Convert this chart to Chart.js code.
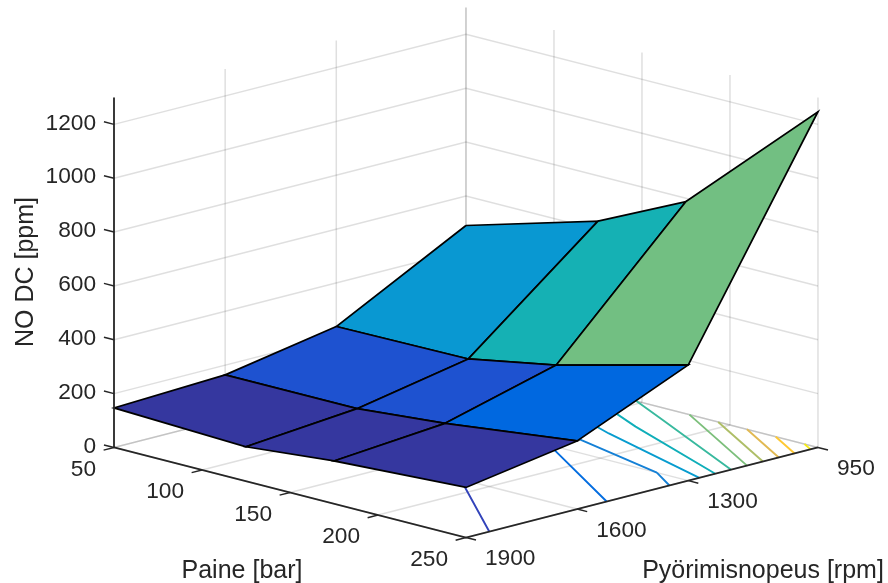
<!DOCTYPE html>
<html lang="en">

<head>
    <meta charset="UTF-8">
    <title>NO DC</title>
    <script src="https://cdn.jsdelivr.net/npm/chart.js"></script>
    <style>
        body { margin: 0; background: #ffffff; }
        canvas { display: block; }
    </style>
</head>

<body>
    <canvas id="surfaceChart" width="888" height="583"></canvas>

    <script>
        // Data
        var pressures = [50, 125, 175, 250];
        var speeds = [950, 1300, 1600, 1900];
        var noAt950 = [490, 632, 788, 1247];
        var noAt1300 = [238, 243, 304, 430];
        var noAt1600 = [164, 164, 193, 253];
        var noAt1900 = [147, 128, 159, 186];
        var noRows = [noAt950, noAt1300, noAt1600, noAt1900];

        var pressureTicks = [50, 100, 150, 200, 250];
        var speedTicks = [950, 1300, 1600, 1900];
        var noTicks = [0, 200, 400, 600, 800, 1000, 1200];
        var contourLevels = [200, 300, 400, 500, 600, 700, 800, 900, 1000, 1100, 1200];

        // Face colours per speed band / pressure band
        var faceColors = [
            ['#0998d2', '#15b1b4', '#72bf82'],
            ['#1e52d0', '#1e52d0', '#0068e0'],
            ['#35379f', '#35379f', '#35379f']
        ];
        var contourColors = ['#3243ba', '#046de0', '#1480d6', '#079ccf', '#0faeb9', '#38b99e',
            '#7cbf7b', '#aebe67', '#e1b952', '#fec832', '#f5eb18'];

        var axisColor = '#262626';
        var gridColor = 'rgba(38, 38, 38, 0.15)';
        var pMin = 50, pMax = 250, rMin = 950, rMax = 1900, zMax = 1300;

        // Oblique view of the box: x in view units, y in ppm on the axis
        function project(p, r, z) {
            return {
                x: 114 + 1.76 * (p - pMin) + 0.3705 * (rMax - r),
                y: z - 1.672 * (p - pMin) + 0.352 * (rMax - r)
            };
        }

        var gap = { x: NaN, y: NaN };
        var datasets = [];

        function addLine(points, color, width) {
            datasets.push({
                data: points,
                showLine: true,
                fill: false,
                borderColor: color,
                borderWidth: width,
                pointRadius: 0,
                tension: 0,
                clip: false
            });
        }

        // Grid on the two back walls and the floor
        noTicks.forEach(function (z) {
            addLine([project(pMin, rMax, z), project(pMin, rMin, z), project(pMax, rMin, z)], gridColor, 1.5);
        });
        speedTicks.forEach(function (r) {
            addLine([project(pMin, r, 0), project(pMin, r, zMax)], gridColor, 1.5);
            addLine([project(pMin, r, 0), project(pMax, r, 0)], gridColor, 1.5);
        });
        pressureTicks.forEach(function (p) {
            addLine([project(p, rMin, 0), project(p, rMin, zMax)], gridColor, 1.5);
            addLine([project(p, rMin, 0), project(p, rMax, 0)], gridColor, 1.5);
        });

        // Contours on the floor, from the surface values
        function crossing(level, p1, r1, v1, p2, r2, v2) {
            if ((v1 < level) === (v2 < level)) return null;
            var t = (level - v1) / (v2 - v1);
            return project(p1 + t * (p2 - p1), r1 + t * (r2 - r1), 0);
        }

        contourLevels.forEach(function (level, n) {
            var pts = [];
            for (var i = 0; i < speeds.length - 1; i++) {
                for (var j = 0; j < pressures.length - 1; j++) {
                    var p0 = pressures[j], p1 = pressures[j + 1], r0 = speeds[i], r1 = speeds[i + 1];
                    var hits = [
                        crossing(level, p0, r0, noRows[i][j], p1, r0, noRows[i][j + 1]),
                        crossing(level, p1, r0, noRows[i][j + 1], p1, r1, noRows[i + 1][j + 1]),
                        crossing(level, p1, r1, noRows[i + 1][j + 1], p0, r1, noRows[i + 1][j]),
                        crossing(level, p0, r1, noRows[i + 1][j], p0, r0, noRows[i][j])
                    ].filter(Boolean);
                    if (hits.length >= 2) pts.push(hits[0], hits[1], gap);
                }
            }
            addLine(pts, contourColors[n], 1.9);
        });

        // Surface faces, back to front
        for (var i = 0; i < speeds.length - 1; i++) {
            for (var j = 0; j < pressures.length - 1; j++) {
                datasets.push({
                    data: [
                        project(pressures[j], speeds[i], noRows[i][j]),
                        project(pressures[j + 1], speeds[i], noRows[i][j + 1]),
                        project(pressures[j + 1], speeds[i + 1], noRows[i + 1][j + 1]),
                        project(pressures[j], speeds[i + 1], noRows[i + 1][j]),
                        project(pressures[j], speeds[i], noRows[i][j])
                    ],
                    showLine: true,
                    fill: 'shape',
                    backgroundColor: faceColors[i][j],
                    borderColor: '#000000',
                    borderWidth: 1.7,
                    pointRadius: 0,
                    tension: 0,
                    clip: false
                });
            }
        }

        // Axis lines and tick marks
        addLine([project(pMin, rMax, 0), project(pMin, rMax, zMax)], axisColor, 1.8);
        addLine([project(pMin, rMax, 0), project(pMax, rMax, 0), project(pMax, rMin, 0)], axisColor, 1.8);
        noTicks.forEach(function (z) {
            addLine([project(pMin - 5.7, rMax, z), project(pMin, rMax, z)], axisColor, 1.5);
        });
        pressureTicks.forEach(function (p) {
            addLine([project(p, rMax + 28, 0), project(p, rMax, 0)], axisColor, 1.5);
        });
        speedTicks.forEach(function (r) {
            addLine([project(pMax, r, 0), project(pMax + 5.7, r, 0)], axisColor, 1.5);
        });

        // later datasets go on top
        datasets.forEach(function (d, n) { d.order = datasets.length - n; });

        // Tick labels and titles of the floor axes
        var floorLabels = {
            id: 'floorLabels',
            afterDraw: function (chart) {
                var ctx = chart.ctx, xs = chart.scales.x, ys = chart.scales.y;
                function at(p, r) {
                    var v = project(p, r, 0);
                    return { x: xs.getPixelForValue(v.x), y: ys.getPixelForValue(v.y) };
                }
                ctx.save();
                ctx.fillStyle = axisColor;
                ctx.textBaseline = 'middle';
                ctx.font = '22.7px "Liberation Sans"';
                ctx.textAlign = 'right';
                pressureTicks.forEach(function (p) {
                    var a = at(p, rMax);
                    ctx.fillText(String(p), a.x - 18, a.y + 22);
                });
                ctx.textAlign = 'left';
                speedTicks.forEach(function (r) {
                    var a = at(pMax, r);
                    ctx.fillText(String(r), a.x + 19, a.y + 21.5);
                });
                ctx.font = '25px "Liberation Sans"';
                ctx.textAlign = 'center';
                ctx.fillText('Paine [bar]', 242, 571);
                ctx.fillText('Pyörimisnopeus [rpm]', 763, 571);
                ctx.restore();
            }
        };

        var surfaceChart = new Chart(document.getElementById('surfaceChart').getContext('2d'), {
            type: 'scatter',
            data: { datasets: datasets },
            plugins: [floorLabels],
            options: {
                responsive: false,
                animation: false,
                events: [],
                layout: { autoPadding: false, padding: { bottom: 39 } },
                plugins: { legend: { display: false }, tooltip: { enabled: false } },
                scales: {
                    x: { type: 'linear', display: false, min: 114, max: 888 },
                    y: {
                        type: 'linear',
                        min: -358.5,
                        max: 1662,
                        grid: { display: false, drawTicks: false },
                        border: { display: false },
                        title: {
                            display: true,
                            text: 'NO DC [ppm]',
                            color: axisColor,
                            font: { family: '"Liberation Sans"', size: 25 },
                            padding: { top: 11, bottom: 0 }
                        },
                        ticks: {
                            color: axisColor,
                            font: { family: '"Liberation Sans"', size: 22.7 },
                            padding: 18,
                            labelOffset: -1,
                            autoSkip: false,
                            callback: function (value) { return String(value); }
                        },
                        afterBuildTicks: function (scale) {
                            scale.ticks = noTicks.map(function (v) { return { value: v }; });
                        },
                        afterFit: function (scale) {
                            scale.width = 114;
                            scale.paddingTop = 0;
                            scale.paddingBottom = 0;
                        }
                    }
                }
            }
        });
    </script>
</body>

</html>
